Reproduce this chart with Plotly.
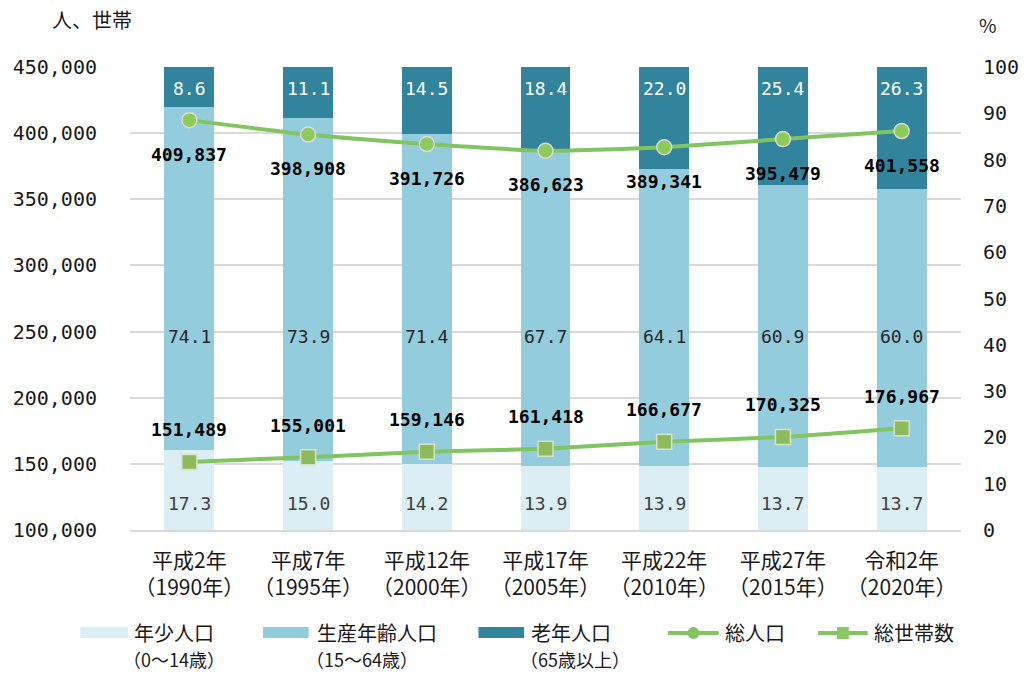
import plotly.graph_objects as go

# ---------------- data ----------------
categories = ["平成2年<br>（1990年）", "平成7年<br>（1995年）", "平成12年<br>（2000年）",
              "平成17年<br>（2005年）", "平成22年<br>（2010年）", "平成27年<br>（2015年）",
              "令和2年<br>（2020年）"]
young = [17.3, 15.0, 14.2, 13.9, 13.9, 13.7, 13.7]
working = [74.1, 73.9, 71.4, 67.7, 64.1, 60.9, 60.0]
elderly = [8.6, 11.1, 14.5, 18.4, 22.0, 25.4, 26.3]
total_pop = [409837, 398908, 391726, 386623, 389341, 395479, 401558]
households = [151489, 155001, 159146, 161418, 166677, 170325, 176967]

legend_bar_names = ["年少人口", "生産年齢人口", "老年人口"]
legend_bar_sub = ["（0～14歳）", "（15～64歳）", "（65歳以上）"]
legend_line_names = ["総人口", "総世帯数"]

# ---------------- style ----------------
C_YOUNG = "#DAEEF3"
C_WORK = "#93CDDD"
C_OLD = "#31849B"
C_LINE = "#82C462"
C_CIRCLE = "#8CCB5A"
C_SQUARE = "#8DBA5C"
CJK = "Noto Sans CJK JP"
MONO = "DejaVu Sans Mono"
TXT = "#1a1a1a"

W, H = 1031, 674
ML, MR, MT, MB = 130, 64, 67, 144
PW, PH = W - ML - MR, H - MT - MB
PB = H - MB


def px(x):
    return (x - ML) / PW


def py(y):
    return (PB - y) / PH


fig = go.Figure()

for vals, col, name in zip([young, working, elderly], [C_YOUNG, C_WORK, C_OLD], legend_bar_names):
    fig.add_trace(go.Bar(x=categories, y=vals, name=name, marker=dict(color=col, line=dict(width=0)),
                         width=0.42, yaxis="y", showlegend=False, hoverinfo="y+name"))

fig.add_trace(go.Scatter(x=categories, y=total_pop, name="総人口", yaxis="y2", mode="lines+markers",
                         line=dict(color=C_LINE, width=4, shape="spline", smoothing=0.5),
                         marker=dict(symbol="circle", size=15, color=C_CIRCLE,
                                     line=dict(color="#DADADA", width=1.5)),
                         showlegend=False))
fig.add_trace(go.Scatter(x=categories, y=households, name="総世帯数", yaxis="y2", mode="lines+markers",
                         line=dict(color=C_LINE, width=4, shape="spline", smoothing=0.5),
                         marker=dict(symbol="square", size=15, color=C_SQUARE,
                                     line=dict(color="#D6E3C4", width=1.5)),
                         showlegend=False))

ann = []
# bar percentage labels
for c, yv, wv, ev in zip(categories, young, working, elderly):
    for val, ypos, col in [(yv, 5.8, "#404040"), (wv, 41.8, "#262626"), (ev, 95.3, "white")]:
        ann.append(dict(x=c, y=ypos, xref="x", yref="y", text=f"{val:.1f}", showarrow=False,
                        font=dict(family=MONO, size=18, color=col)))
# line value labels
for c, v in zip(categories, total_pop):
    ann.append(dict(x=c, y=v, xref="x", yref="y2", text=f"<b>{v:,}</b>", showarrow=False, yshift=-34,
                    font=dict(family=MONO, size=18, color="black")))
for c, v in zip(categories, households):
    ann.append(dict(x=c, y=v, xref="x", yref="y2", text=f"<b>{v:,}</b>", showarrow=False, yshift=32,
                    font=dict(family=MONO, size=18, color="black")))

# axis titles
ann.append(dict(x=px(49), y=py(20), xref="paper", yref="paper", text="人、世帯", showarrow=False,
                xanchor="left", yanchor="middle", font=dict(family=CJK, size=20, color=TXT)))
ann.append(dict(x=px(994), y=py(25), xref="paper", yref="paper", text="%", showarrow=False,
                xanchor="center", yanchor="middle", font=dict(family=CJK, size=19, color=TXT)))

# manual legend
shapes = []
bar_sw = [(80, 128, 132), (264, 310, 316), (481, 527, 532)]
for (x0, x1, tx), col, nm, sub in zip(bar_sw, [C_YOUNG, C_WORK, C_OLD], legend_bar_names, legend_bar_sub):
    shapes.append(dict(type="rect", xref="paper", yref="paper", x0=px(x0), x1=px(x1), y0=py(638), y1=py(627),
                       fillcolor=col, line=dict(width=0)))
    ann.append(dict(x=px(tx), y=py(632), xref="paper", yref="paper", text=nm, showarrow=False,
                    xanchor="left", yanchor="middle", font=dict(family=CJK, size=20, color=TXT)))
    ann.append(dict(x=px(tx - 11), y=py(659), xref="paper", yref="paper", text=sub, showarrow=False,
                    xanchor="left", yanchor="middle", font=dict(family=CJK, size=18, color=TXT)))

line_sw = [(672, 723, 727, "circle"), (823, 873, 877, "rect")]
for (x0, x1, tx, sym), nm in zip(line_sw, legend_line_names):
    shapes.append(dict(type="line", xref="paper", yref="paper", x0=px(x0), x1=px(x1), y0=py(633), y1=py(633),
                       line=dict(color=C_LINE, width=4)))
    cx = (x0 + x1) / 2
    shapes.append(dict(type=sym, xref="paper", yref="paper", x0=px(cx - 6), x1=px(cx + 6),
                       y0=py(639), y1=py(627), fillcolor=C_LINE if sym == "circle" else "#8CC765",
                       line=dict(width=0)))
    ann.append(dict(x=px(tx), y=py(632), xref="paper", yref="paper", text=nm, showarrow=False,
                    xanchor="left", yanchor="middle", font=dict(family=CJK, size=20, color=TXT)))

fig.update_layout(
    width=W, height=H,
    margin=dict(l=ML, r=MR, t=MT, b=MB, pad=0),
    paper_bgcolor="white", plot_bgcolor="white",
    barmode="stack",
    font=dict(family=CJK, color=TXT),
    xaxis=dict(type="category", showgrid=False, showline=True, linecolor="#D9D9D9", linewidth=1.5,
               ticks="", tickfont=dict(family=CJK, size=21, color=TXT), ticklabelstandoff=11,
               fixedrange=True),
    yaxis=dict(range=[0, 100], dtick=10, side="right", showgrid=False, zeroline=False,
               tickfont=dict(family=MONO, size=20, color=TXT), ticks="", ticklabelstandoff=21,
               fixedrange=True),
    yaxis2=dict(range=[100000, 450000], dtick=50000, side="left", overlaying="y", showgrid=True,
                gridcolor="#D9D9D9", gridwidth=1.5, zeroline=False, tickformat=",",
                tickfont=dict(family=MONO, size=20, color=TXT), ticks="", ticklabelstandoff=32,
                fixedrange=True),
    annotations=ann,
    shapes=shapes,
    showlegend=False,
)

fig.write_html("out.html", config={"displayModeBar": False},
               post_script="document.body.style.margin='0';")
